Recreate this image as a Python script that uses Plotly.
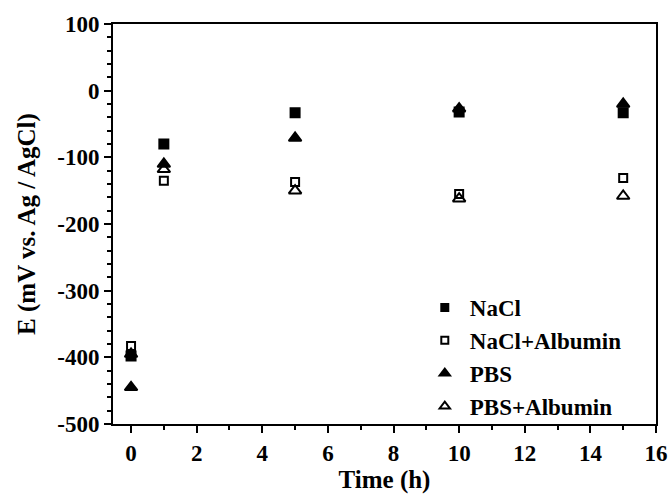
import plotly.graph_objects as go

time_h = [0, 1, 5, 10, 15]
nacl = [-398, -80, -33, -32, -33]
nacl_albumin = [-383, -135, -137, -155, -131]
pbs = [-445, -110, -71, -27, -20]
pbs_albumin = [-395, -118, -150, -162, -158]

y_tick_vals = [100, 0, -100, -200, -300, -400, -500]
y_tick_text = ["100", "0", "-100", "-200", "-300", "-400", "-500"]

series = [
    ("NaCl", nacl, "square", 9, 7),
    ("NaCl+Albumin", nacl_albumin, "square-open", 8, 7),
    ("PBS", pbs, "triangle-up", 11, 9),
    ("PBS+Albumin", pbs_albumin, "triangle-up-open", 11, 9),
]

FAM = "Liberation Serif, Times New Roman, serif"

fig = go.Figure()
for name, vals, sym, sz, lsz in series:
    fig.add_trace(go.Scatter(
        x=time_h, y=vals, mode="markers", name=name, showlegend=False,
        marker=dict(symbol=sym, size=sz, color="black",
                    line=dict(color="black", width=2)),
    ))
for name, vals, sym, sz, lsz in series:
    fig.add_trace(go.Scatter(
        x=[None], y=[None], mode="markers", name="<b>" + name + "</b>",
        marker=dict(symbol=sym, size=lsz, color="black",
                    line=dict(color="black", width=2)),
    ))

fig.update_layout(
    width=670, height=496,
    margin=dict(l=113, r=14, t=24, b=72),
    paper_bgcolor="white", plot_bgcolor="white",
    font=dict(family=FAM, size=23, color="black"),
    showlegend=True,
    legend=dict(x=0.565, y=0.345, xanchor="left", yanchor="top",
                bgcolor="rgba(0,0,0,0)", itemwidth=40,
                font=dict(size=23, family=FAM, color="black"),
                itemsizing="trace", tracegroupgap=0),
    xaxis=dict(
        range=[-0.55, 16], tickmode="linear", tick0=0, dtick=2,
        ticks="outside", ticklen=7, tickwidth=2, tickcolor="black",
        showline=True, linewidth=2, linecolor="black", mirror=True,
        showgrid=False, zeroline=False, automargin=False,
        tickfont=dict(size=23, family=FAM, color="black", weight="bold"),
        title=dict(text="<b>Time (h)</b>", standoff=6,
                   font=dict(size=25, family=FAM, color="black")),
        minor=dict(dtick=1, tick0=0, ticks="outside", ticklen=4, tickwidth=2, tickcolor="black"),
    ),
    yaxis=dict(
        range=[-500, 100], tickmode="array", tickvals=y_tick_vals, ticktext=y_tick_text,
        ticks="outside", ticklen=7, tickwidth=2, tickcolor="black",
        showline=True, linewidth=2, linecolor="black", mirror=True,
        showgrid=False, zeroline=False, automargin=False,
        tickfont=dict(size=23, family=FAM, color="black", weight="bold"),
        title=dict(text="<b>E (mV vs. Ag / AgCl)</b>", standoff=14,
                   font=dict(size=25, family=FAM, color="black")),
        minor=dict(dtick=20, tick0=0, ticks="outside", ticklen=4, tickwidth=2, tickcolor="black"),
    ),
)

fig.write_html("out.html")
